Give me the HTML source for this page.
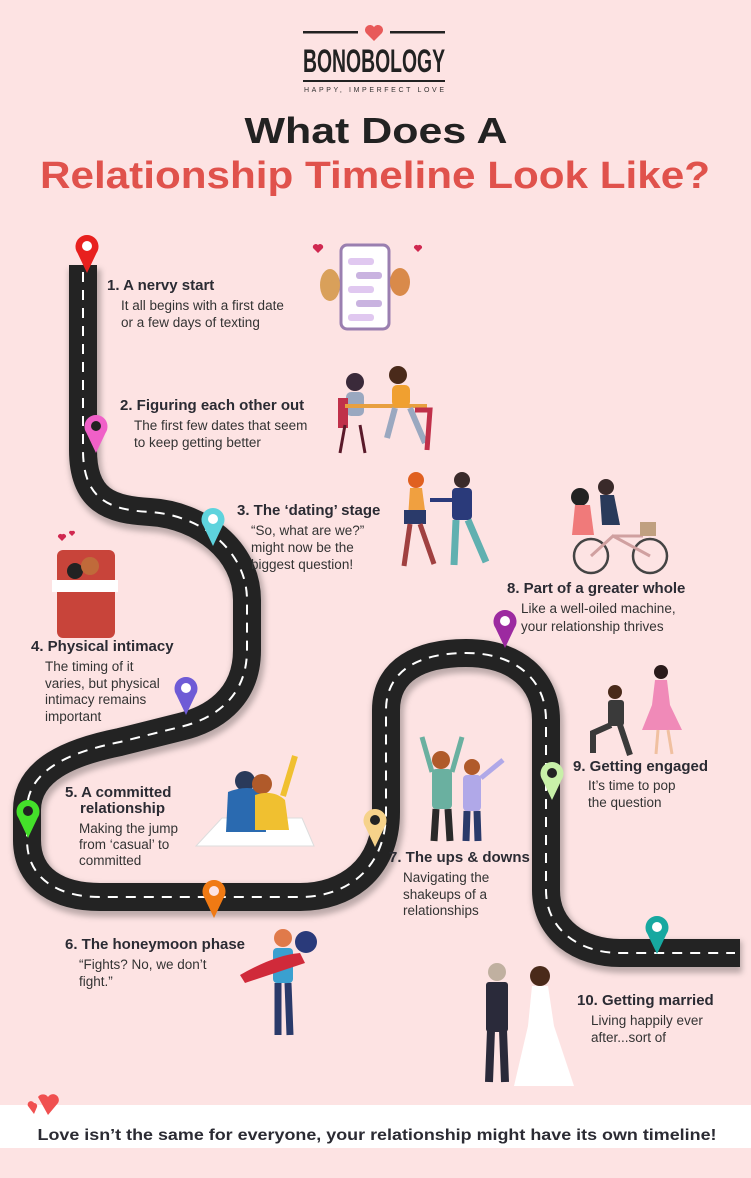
<!DOCTYPE html>
<html><head><meta charset="utf-8"><style>
html,body{margin:0;padding:0;background:#fde3e3;}
svg{display:block}
.h{font-family:"Liberation Sans",sans-serif;font-weight:bold;font-size:15px;fill:#2b2b33}
.b{font-family:"Liberation Sans",sans-serif;font-size:13.5px;fill:#333}
</style></head><body>
<svg width="751" height="1178" viewBox="0 0 751 1178" xmlns="http://www.w3.org/2000/svg">
<defs>
<g id="pin"><path d="M0,0 L-9.5,-20 A11.5,11.5 0 1,1 9.5,-20 Z"/></g>
<filter id="sh" x="-10%" y="-10%" width="120%" height="120%"><feGaussianBlur stdDeviation="3"/></filter>
</defs>
<rect width="751" height="1178" fill="#fde3e3"/>
<!-- header -->
<rect x="303" y="31" width="55" height="2.5" fill="#222"/>
<rect x="390" y="31" width="55" height="2.5" fill="#222"/>
<path d="M374,41 L366,33 A4.5,4.5 0 0,1 374,27 A4.5,4.5 0 0,1 382,33 Z" fill="#e85a5a"/>
<text x="374" y="72" text-anchor="middle" font-family="Liberation Sans Narrow,Liberation Sans,sans-serif" font-weight="bold" font-size="32" fill="#222" textLength="142" lengthAdjust="spacingAndGlyphs">BONOBOLOGY</text>
<rect x="303" y="80" width="142" height="2" fill="#222"/>
<text x="374" y="92" text-anchor="middle" font-family="Liberation Sans,sans-serif" font-size="7" fill="#333" textLength="140" lengthAdjust="spacing">HAPPY, IMPERFECT LOVE</text>
<text x="376" y="143" text-anchor="middle" font-family="Liberation Sans,sans-serif" font-weight="bold" font-size="36" fill="#222" textLength="263" lengthAdjust="spacingAndGlyphs">What Does A</text>
<text x="375" y="188" text-anchor="middle" font-family="Liberation Sans,sans-serif" font-weight="bold" font-size="38" fill="#e0524c" textLength="670" lengthAdjust="spacingAndGlyphs">Relationship Timeline Look Like?</text>

<!-- road -->
<path d="M83,265 L83,450 C83,500 110,510 150,512 C200,515 247,550 247,600 L247,650 C247,700 210,720 180,727 L120,742 C70,752 27,770 27,810 L27,840 C27,880 60,897 100,897 L300,897 C345,897 386,870 386,812 L386,710 C386,670 420,653 466,653 C516,653 546,680 546,720 L546,890 C546,930 580,953 620,953 L740,953" fill="none" stroke="#000" stroke-opacity="0.25" stroke-width="32" filter="url(#sh)" transform="translate(2,4)"/>
<path d="M83,265 L83,450 C83,500 110,510 150,512 C200,515 247,550 247,600 L247,650 C247,700 210,720 180,727 L120,742 C70,752 27,770 27,810 L27,840 C27,880 60,897 100,897 L300,897 C345,897 386,870 386,812 L386,710 C386,670 420,653 466,653 C516,653 546,680 546,720 L546,890 C546,930 580,953 620,953 L740,953" fill="none" stroke="#232323" stroke-width="28"/>
<path d="M83,272 L83,450 C83,500 110,510 150,512 C200,515 247,550 247,600 L247,650 C247,700 210,720 180,727 L120,742 C70,752 27,770 27,810 L27,840 C27,880 60,897 100,897 L300,897 C345,897 386,870 386,812 L386,710 C386,670 420,653 466,653 C516,653 546,680 546,720 L546,890 C546,930 580,953 620,953 L735,953" fill="none" stroke="#fff" stroke-width="2" stroke-dasharray="10 8"/>

<!-- pins -->
<g transform="translate(87,273)" fill="#e8201e"><use href="#pin"/><circle cx="0" cy="-27" r="5" fill="#fff"/></g>
<g transform="translate(96,453)" fill="#f060c8"><use href="#pin"/><circle cx="0" cy="-27" r="5" fill="#222"/></g>
<g transform="translate(213,546)" fill="#5ed3dd"><use href="#pin"/><circle cx="0" cy="-27" r="5" fill="#fff"/></g>
<g transform="translate(186,715)" fill="#6e5bd6"><use href="#pin"/><circle cx="0" cy="-27" r="5" fill="#fff"/></g>
<g transform="translate(28,838)" fill="#44e02a"><use href="#pin"/><circle cx="0" cy="-27" r="5" fill="#222"/></g>
<g transform="translate(214,918)" fill="#f07a14"><use href="#pin"/><circle cx="0" cy="-27" r="5" fill="#fde3e3"/></g>
<g transform="translate(375,847)" fill="#f6d28a"><use href="#pin"/><circle cx="0" cy="-27" r="5" fill="#222"/></g>
<g transform="translate(505,648)" fill="#9c2aa0"><use href="#pin"/><circle cx="0" cy="-27" r="5" fill="#fff"/></g>
<g transform="translate(552,800)" fill="#c8f0a8"><use href="#pin"/><circle cx="0" cy="-27" r="5" fill="#222"/></g>
<g transform="translate(657,954)" fill="#17a8a0"><use href="#pin"/><circle cx="0" cy="-27" r="5" fill="#fff"/></g>

<!-- texts -->
<text class="h" x="107" y="290">1. A nervy start</text>
<text class="b" x="121" y="310">It all begins with a first date</text>
<text class="b" x="121" y="327">or a few days of texting</text>

<text class="h" x="120" y="410">2. Figuring each other out</text>
<text class="b" x="134" y="430">The first few dates that seem</text>
<text class="b" x="134" y="447">to keep getting better</text>

<text class="h" x="237" y="515">3. The ‘dating’ stage</text>
<text class="b" x="251" y="535">“So, what are we?”</text>
<text class="b" x="251" y="552">might now be the</text>
<text class="b" x="251" y="569">biggest question!</text>

<text class="h" x="31" y="651">4. Physical intimacy</text>
<text class="b" x="45" y="671">The timing of it</text>
<text class="b" x="45" y="688">varies, but physical</text>
<text class="b" x="45" y="704">intimacy remains</text>
<text class="b" x="45" y="721">important</text>

<text class="h" x="65" y="797">5. A committed</text>
<text class="h" x="80" y="813">relationship</text>
<text class="b" x="79" y="833">Making the jump</text>
<text class="b" x="79" y="849">from ‘casual’ to</text>
<text class="b" x="79" y="865">committed</text>

<text class="h" x="65" y="949">6. The honeymoon phase</text>
<text class="b" x="79" y="969">“Fights? No, we don’t</text>
<text class="b" x="79" y="986">fight.”</text>

<text class="h" x="389" y="862">7. The ups &amp; downs</text>
<text class="b" x="403" y="882">Navigating the</text>
<text class="b" x="403" y="899">shakeups of a</text>
<text class="b" x="403" y="915">relationships</text>

<text class="h" x="507" y="593">8. Part of a greater whole</text>
<text class="b" x="521" y="613">Like a well-oiled machine,</text>
<text class="b" x="521" y="631">your relationship thrives</text>

<text class="h" x="573" y="771">9. Getting engaged</text>
<text class="b" x="588" y="790">It’s time to pop</text>
<text class="b" x="588" y="807">the question</text>

<text class="h" x="577" y="1005">10. Getting married</text>
<text class="b" x="591" y="1025">Living happily ever</text>
<text class="b" x="591" y="1042">after...sort of</text>

<!-- illustrations (simplified) -->
<rect x="341" y="245" width="48" height="84" rx="6" fill="#fff" stroke="#9a7fb0" stroke-width="3"/>
<rect x="348" y="258" width="26" height="7" rx="3" fill="#e0c8f0"/><rect x="356" y="272" width="26" height="7" rx="3" fill="#c9b3e0"/>
<rect x="348" y="286" width="26" height="7" rx="3" fill="#e0c8f0"/><rect x="356" y="300" width="26" height="7" rx="3" fill="#c9b3e0"/><rect x="348" y="314" width="26" height="7" rx="3" fill="#e0c8f0"/>
<ellipse cx="330" cy="285" rx="10" ry="16" fill="#d9a05a"/><ellipse cx="400" cy="282" rx="10" ry="14" fill="#d98a4a"/>
<path d="M318,253 l-5,-5 a3,3 0 0,1 5,-3 a3,3 0 0,1 5,3z" fill="#d02850"/><path d="M418,252 l-4,-4 a2.5,2.5 0 0,1 4,-2.5 a2.5,2.5 0 0,1 4,2.5z" fill="#d02850"/>
<circle cx="355" cy="382" r="9" fill="#3a2a3a"/><rect x="346" y="392" width="18" height="24" rx="5" fill="#9aa8c0"/>
<rect x="338" y="398" width="10" height="30" fill="#c0304a"/><path d="M345,425 l-5,28 M360,425 l5,28" stroke="#5a1a2a" stroke-width="3"/>
<rect x="345" y="404" width="82" height="4" fill="#e8a040"/>
<circle cx="398" cy="375" r="9" fill="#4a2a1a"/><rect x="392" y="385" width="18" height="22" rx="5" fill="#f0a030"/>
<path d="M395,408 l-8,30 M410,408 l15,35" stroke="#9aa8c0" stroke-width="6"/>
<path d="M415,410 l15,0 l-3,40" fill="none" stroke="#c0304a" stroke-width="5"/>
<circle cx="416" cy="480" r="8" fill="#e06020"/><path d="M410,488 l12,0 l4,30 l-18,0z" fill="#f0a040"/><rect x="404" y="510" width="22" height="14" fill="#2a3a6a"/>
<path d="M410,524 l-6,42 M420,524 l14,40" stroke="#a04040" stroke-width="5"/>
<circle cx="462" cy="480" r="8" fill="#3a2a2a"/><rect x="452" y="488" width="20" height="32" rx="4" fill="#2a3a7a"/>
<path d="M456,520 l-2,45 M468,520 l18,42" stroke="#60b0b0" stroke-width="7"/>
<path d="M430,500 l24,0" stroke="#2a3a7a" stroke-width="4"/>
<rect x="57" y="550" width="58" height="88" rx="6" fill="#c8443a"/>
<circle cx="75" cy="571" r="8" fill="#222"/><circle cx="90" cy="566" r="9" fill="#c06a3a"/>
<rect x="52" y="580" width="66" height="12" fill="#fff"/>
<path d="M62,541 l-4,-4 a2.5,2.5 0 0,1 4,-2.5 a2.5,2.5 0 0,1 4,2.5z" fill="#d02850"/><path d="M72,536 l-3,-3 a2,2 0 0,1 3,-2 a2,2 0 0,1 3,2z" fill="#d02850"/>
<polygon points="222,818 302,818 314,846 196,846" fill="#fff" stroke="#ddd"/>
<circle cx="245" cy="781" r="10" fill="#2a3a5a"/><path d="M228,792 q20,-8 36,0 l2,40 l-40,0z" fill="#2a6ab0"/>
<circle cx="262" cy="784" r="10" fill="#b05a2a"/><path d="M255,795 q18,-6 30,5 l4,30 l-34,0z" fill="#f0c030"/>
<path d="M283,796 l12,-40" stroke="#f0c030" stroke-width="6"/>
<circle cx="283" cy="938" r="9" fill="#e07a4a"/><circle cx="306" cy="942" r="11" fill="#2a3a7a"/>
<rect x="273" y="948" width="20" height="35" rx="4" fill="#3aa0d0"/>
<path d="M240,975 q35,-20 60,-22 l5,10 q-30,10 -60,20z" fill="#d02a3a"/>
<path d="M278,983 l0,52 M288,983 l2,52" stroke="#2a3a6a" stroke-width="7"/>
<circle cx="441" cy="760" r="9" fill="#b05a2a"/><rect x="432" y="769" width="20" height="40" rx="4" fill="#6ab0a0"/>
<path d="M432,772 l-10,-35 M452,772 l10,-35" stroke="#6ab0a0" stroke-width="5"/>
<path d="M436,809 l-2,32 M448,809 l2,32" stroke="#2a2a2a" stroke-width="7"/>
<circle cx="472" cy="767" r="8" fill="#b05a2a"/><rect x="463" y="775" width="18" height="36" rx="4" fill="#b0a8e8"/>
<path d="M481,778 l22,-18" stroke="#b0a8e8" stroke-width="5"/>
<path d="M467,811 l-1,30 M477,811 l1,30" stroke="#2a3a6a" stroke-width="7"/>
<circle cx="591" cy="556" r="17" fill="none" stroke="#444" stroke-width="2.5"/><circle cx="650" cy="556" r="17" fill="none" stroke="#444" stroke-width="2.5"/>
<path d="M591,556 l22,-20 l37,20 M613,536 l30,0" stroke="#d0a0a0" stroke-width="3" fill="none"/>
<circle cx="580" cy="497" r="9" fill="#222"/><path d="M575,505 l15,0 l4,30 l-22,0z" fill="#f07a7a"/>
<circle cx="606" cy="487" r="8" fill="#3a2a2a"/><path d="M600,495 l14,0 l6,30 l-18,0z" fill="#2a3a5a"/>
<rect x="640" y="522" width="16" height="14" fill="#c0a080"/>
<circle cx="615" cy="692" r="7" fill="#4a2a1a"/><rect x="608" y="700" width="16" height="26" rx="3" fill="#3a3a3a"/>
<path d="M611,725 l-18,8 l0,20 M620,725 l10,30" stroke="#3a3a3a" stroke-width="6" fill="none"/>
<circle cx="661" cy="672" r="7" fill="#2a1a1a"/><path d="M655,680 l12,0 l3,25 l12,25 l-40,0 l10,-25z" fill="#f08ab8"/>
<path d="M658,730 l-2,24 M668,730 l4,24" stroke="#f0c0a0" stroke-width="3"/>
<circle cx="497" cy="972" r="9" fill="#c0b0a0"/><rect x="486" y="982" width="22" height="50" rx="3" fill="#2a2a3a"/>
<path d="M491,1030 l-2,52 M503,1030 l2,52" stroke="#2a2a3a" stroke-width="8"/>
<circle cx="540" cy="976" r="10" fill="#4a2a1a"/><path d="M532,986 l16,0 l6,40 l20,60 l-60,0 l14,-60z" fill="#fff"/>
<!-- footer -->
<rect x="0" y="1105" width="751" height="43" fill="#fff"/>
<path d="M34,1114 l-6,-8 a3,3 0 0,1 6,-3 a3,3 0 0,1 3,4z" fill="#f05050"/>
<path d="M48,1115 l-10,-18 a6,6 0 0,1 10,0 a5,5 0 0,1 10,6z" fill="#f05050"/>
<text x="377" y="1140" text-anchor="middle" font-family="Liberation Sans,sans-serif" font-weight="bold" font-size="16" fill="#2b2b33" textLength="679" lengthAdjust="spacingAndGlyphs">Love isn’t the same for everyone, your relationship might have its own timeline!</text>
</svg>
</body></html>
